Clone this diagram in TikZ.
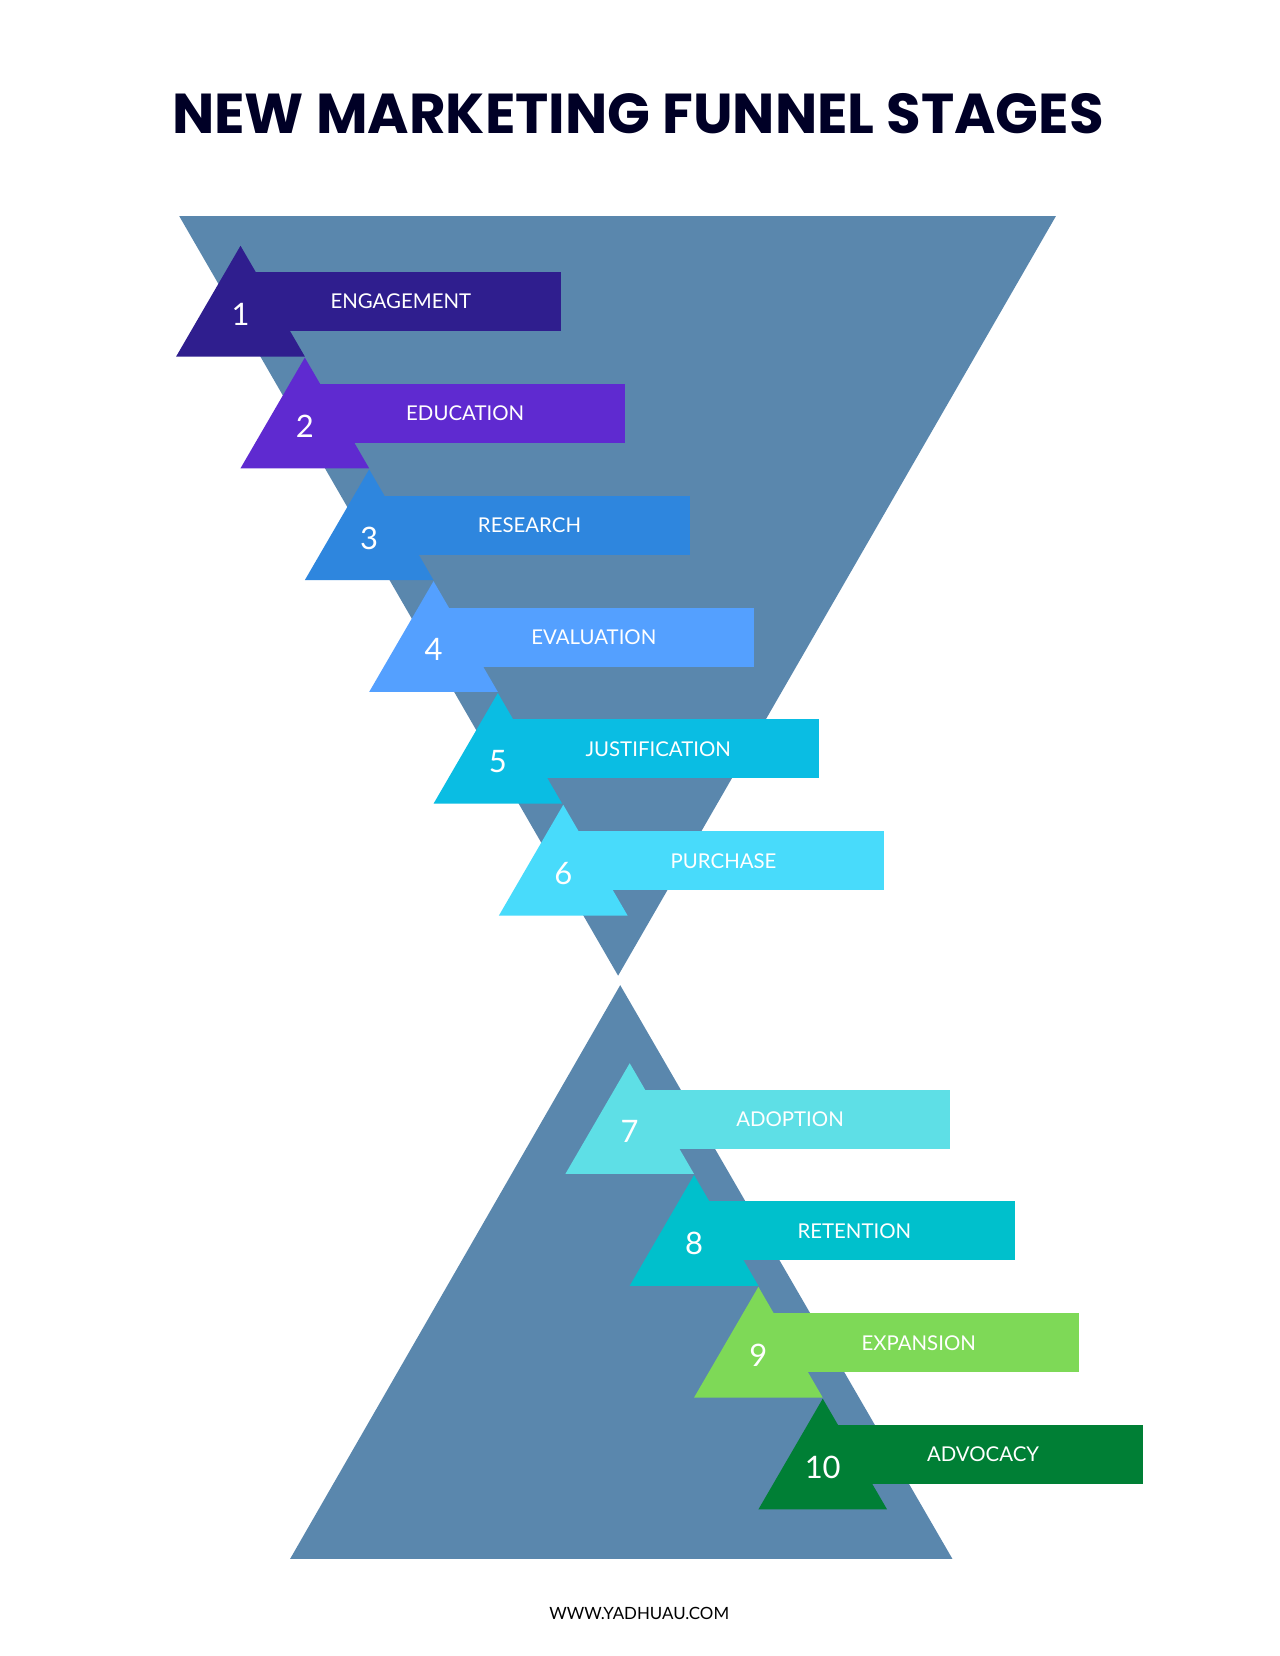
\documentclass[tikz,border=0pt]{standalone}
\usepackage{fontspec}
\setmainfont{Poppins}
\newfontfamily\labfont{Lato}
\begin{document}
\begin{tikzpicture}[x=0.75pt,y=-0.75pt,
  funnel/.style={fill=funnelc},
  numtxt/.style={text=white,font=\labfont\fontsize{22}{22}\selectfont},
  labtxt/.style={text=white,font=\labfont\fontsize{14.5}{15}\selectfont}]
\definecolor{funnelc}{HTML}{5A87AD}
\definecolor{c1}{HTML}{2F1E8E}\definecolor{c2}{HTML}{5F2AD0}
\definecolor{c3}{HTML}{2E86DE}\definecolor{c4}{HTML}{54A0FF}
\definecolor{c5}{HTML}{0ABDE3}\definecolor{c6}{HTML}{48DBFB}
\definecolor{c7}{HTML}{5EDFE6}\definecolor{c8}{HTML}{00C0CC}
\definecolor{c9}{HTML}{7ED957}\definecolor{c10}{HTML}{007F35}
\useasboundingbox (0,0) rectangle (1213,1570);
\fill[white] (0,0) rectangle (1213,1570);
\node[anchor=west,inner sep=0,text=black!85!blue,font=\bfseries\fontsize{40}{40}\selectfont] (title) at (163,108) {NEW MARKETING FUNNEL STAGES};
\fill[funnel] (170,205) -- (1001,205) -- (586,925) -- cycle;
\fill[funnel] (588,934) -- (903,1478) -- (275,1478) -- cycle;
\foreach \i/\ax/\ay/\lab in {1/228/233/ENGAGEMENT,2/289/339/EDUCATION,3/350/445/RESEARCH,4/411/551/EVALUATION,5/472/657/JUSTIFICATION,6/534/763/PURCHASE,7/597/1008/ADOPTION,8/658/1114/RETENTION,9/719/1220/EXPANSION,10/780/1326/ADVOCACY}{
  \fill[c\i] (\ax,\ay) -- (\ax+61,\ay+105) -- (\ax-61,\ay+105) -- cycle;
  \fill[c\i] (\ax+12,\ay+25) rectangle (\ax+304,\ay+81);
  \node[numtxt] (n\i) at (\ax,\ay+65) {\i};
  \node[labtxt] (l\i) at (\ax+152,\ay+53) {\lab};
}
\node[font=\labfont\fontsize{12}{12}\selectfont] (web) at (606,1530) {WWW.YADHUAU.COM};
\end{tikzpicture}
\end{document}
